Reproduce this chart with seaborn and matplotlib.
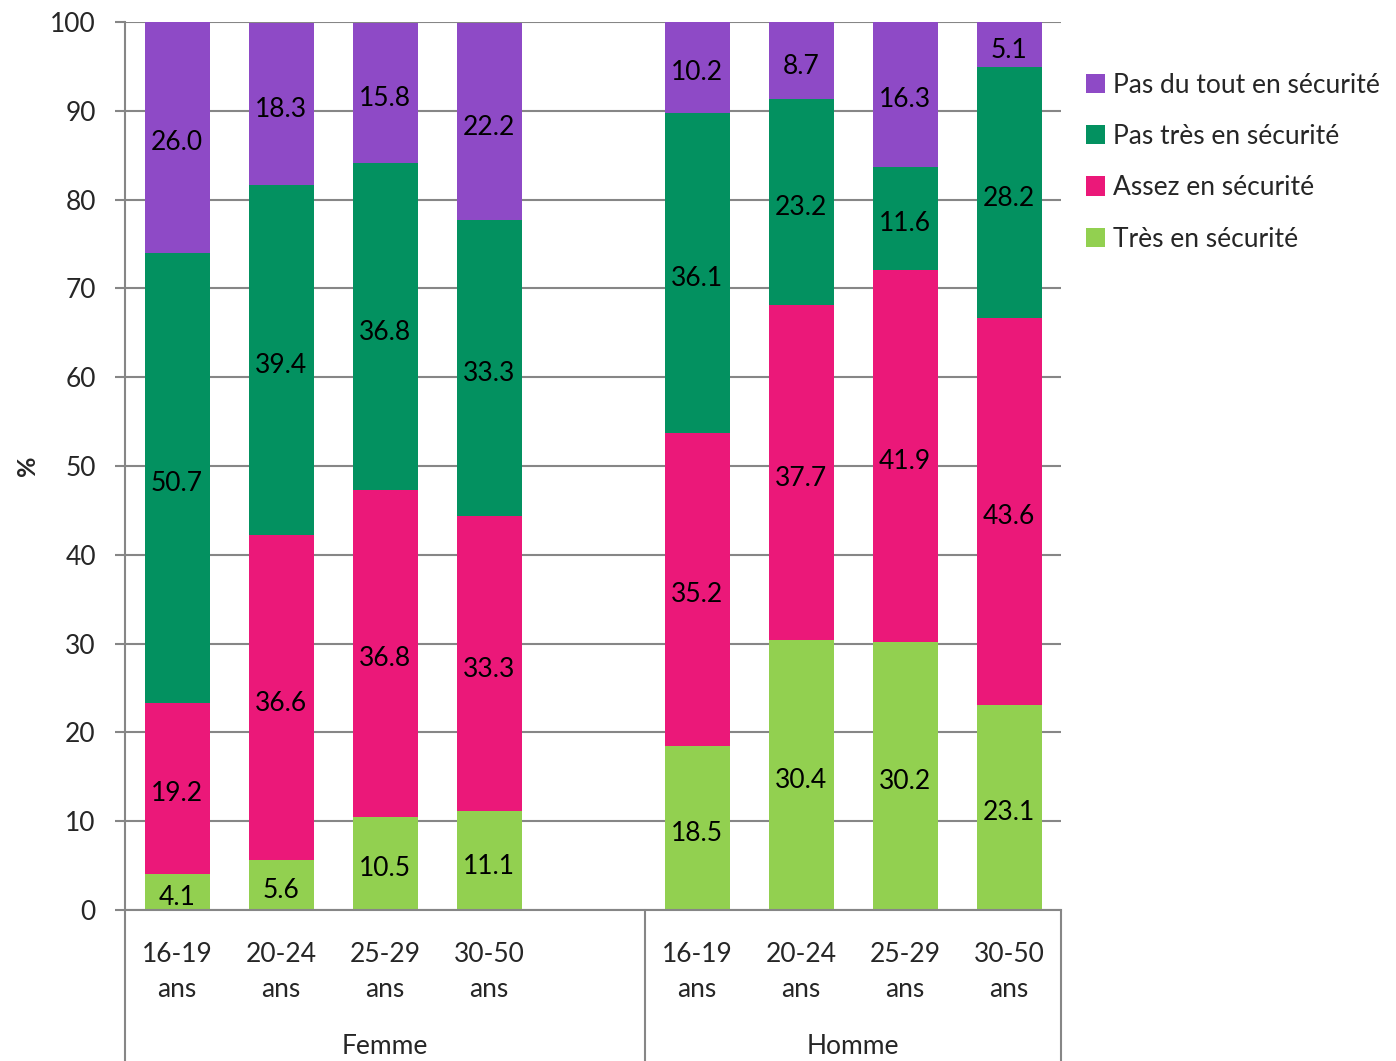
import numpy as np
import pandas as pd
import matplotlib
matplotlib.use("Agg")
import matplotlib.pyplot as plt
import matplotlib.transforms as mtransforms
from matplotlib.patches import Patch
import seaborn as sns

# Data: share of respondents (%) by feeling of safety, sex and age group
groups = ["Femme", "Homme"]
ages = ["16-19\nans", "20-24\nans", "25-29\nans", "30-50\nans"]
tres = [4.1, 5.6, 10.5, 11.1, 18.5, 30.4, 30.2, 23.1]
assez = [19.2, 36.6, 36.8, 33.3, 35.2, 37.7, 41.9, 43.6]
pas_tres = [50.7, 39.4, 36.8, 33.3, 36.1, 23.2, 11.6, 28.2]
pas_du_tout = [26.0, 18.3, 15.8, 22.2, 10.2, 8.7, 16.3, 5.1]
series_names = ["Très en sécurité", "Assez en sécurité",
                "Pas très en sécurité", "Pas du tout en sécurité"]
colors = ["#92D050", "#EB1879", "#039160", "#8E4AC6"]

sns.set_theme(style="white")
plt.rcParams["font.family"] = ["Lato", "DejaVu Sans"]
FS = 19

slots = [f"{g}|{a}" for g in groups for a in ages]
order = slots[:4] + ["gap"] + slots[4:]
layers = [tres, assez, pas_tres, pas_du_tout]
cum = np.cumsum(np.array(layers), axis=0)
df = pd.DataFrame({"slot": slots})
for i in range(4):
    df[f"cum{i}"] = cum[i]

fig = plt.figure(figsize=(13.96, 10.61), dpi=100)
W, H = 1396, 1061
x0, x1, y0, y1 = 125, 1061, 910, 22
ax = fig.add_axes([x0 / W, 1 - y0 / H, (x1 - x0) / W, (y0 - y1) / H])
ax.set_axisbelow(True)

# stacked bars: draw cumulative totals from the top layer down
for i in reversed(range(4)):
    sns.barplot(data=df, x="slot", y=f"cum{i}", order=order, color=colors[i],
                width=0.625, saturation=1, errorbar=None, ax=ax, linewidth=0)

# value labels centred in each segment
pos = {s: order.index(s) for s in slots}
for i in range(4):
    for j, s in enumerate(slots):
        v = layers[i][j]
        bottom = cum[i][j] - v
        ax.annotate(f"{v:.1f}", (pos[s], bottom + v / 2), xytext=(0, -4),
                    textcoords="offset points", ha="center", va="center",
                    fontsize=FS, color="black")

ax.set_xlim(-0.5, 8.5)
ax.set_ylim(0, 100)
ax.set_yticks(np.arange(0, 101, 10))
ax.set_yticklabels([str(v) for v in range(0, 101, 10)], fontsize=FS)
ax.yaxis.grid(True, color="#868686", linewidth=1.5)
ax.xaxis.grid(False)
ax.tick_params(axis="y", length=7, width=1.5, color="#868686", pad=14,
               left=True)
ax.set_xticks([pos[s] for s in slots])
ax.set_xticklabels(ages * 2, fontsize=FS, linespacing=1.5)
ax.tick_params(axis="x", length=0, pad=23)
ax.set_xlabel("")
ax.set_ylabel("")
fig.text(28 / W, 1 - 466 / H, "%", rotation=90, ha="center", va="center",
         fontsize=18, fontweight="bold")

for side in ["top", "right"]:
    ax.spines[side].set_visible(False)
for side in ["left", "bottom"]:
    ax.spines[side].set_color("#868686")
    ax.spines[side].set_linewidth(1.5)

# group separators and group labels below the axis
trans = mtransforms.blended_transform_factory(ax.transData, ax.transAxes)
bottom_ax = -(H - y0) / (y0 - y1)
for xs in [-0.5, 4.5, 8.5]:
    ax.plot([xs, xs], [0, bottom_ax], transform=trans, color="#868686",
            linewidth=1.5, clip_on=False)
ax.text(2.0, -(1047 - y0) / (y0 - y1), "Femme", transform=trans,
        ha="center", va="center", fontsize=FS)
ax.text(6.5, -(1047 - y0) / (y0 - y1), "Homme", transform=trans,
        ha="center", va="center", fontsize=FS)

handles = [Patch(facecolor=colors[i], edgecolor="none", label=series_names[i])
           for i in reversed(range(4))]
fig.legend(handles=handles, loc="upper left",
           bbox_to_anchor=(1075 / W, 1 - 62 / H), frameon=False,
           fontsize=FS, handlelength=0.75, handleheight=0.75,
           handletextpad=0.3, labelspacing=1.0, borderaxespad=0)

fig.savefig("out.png", dpi=100)
